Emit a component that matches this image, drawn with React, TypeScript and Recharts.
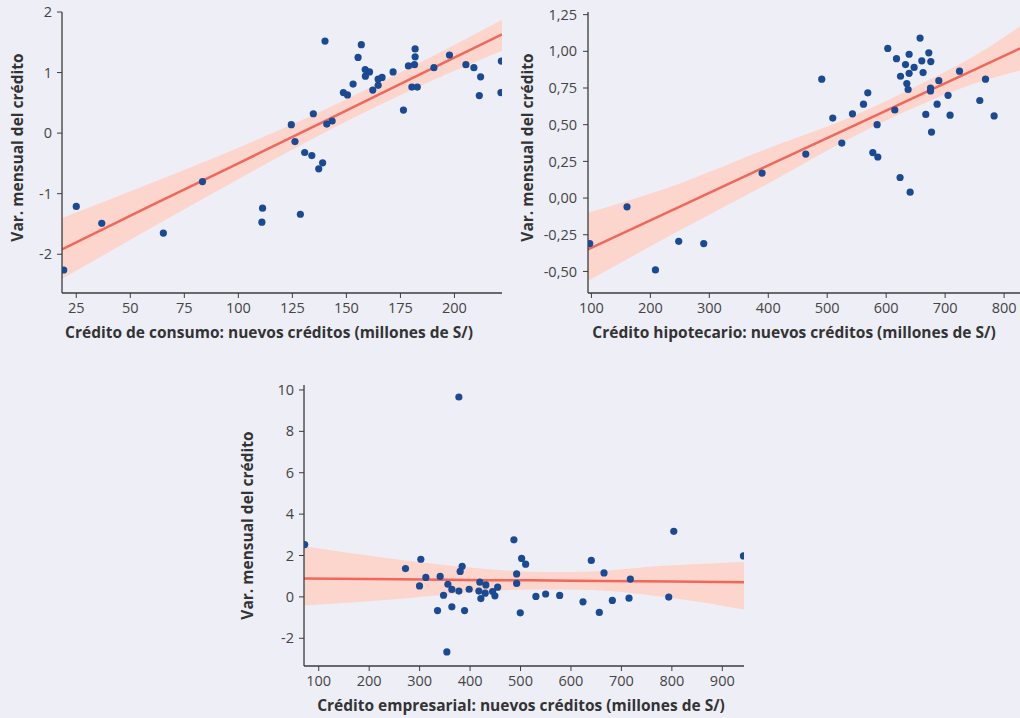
import {
  ComposedChart, Area, Line, Scatter, XAxis, YAxis,
} from 'recharts'

// Colours
const BG = '#eeeff6'
const DOT = '#1a4a94'
const FIT = '#f0675c'
const BAND = '#fcd6cd'
const AXIS = '#3c3c3c'
const TICK = '#444'

// Panel 1: consumo
const consumoPts = [
  [19.2, -2.26], [25, -1.21], [36.8, -1.49], [65.3, -1.65], [83.4, -0.8],
  [111.2, -1.24], [110.9, -1.47], [128.7, -1.34],
  [140.1, 1.52], [156.9, 1.46], [155.4, 1.25], [158.7, 1.05], [160.7, 1.01], [158.8, 0.94],
  [153.1, 0.81], [166.5, 0.92], [164.7, 0.89], [164.7, 0.79], [162.2, 0.71], [148.6, 0.67],
  [150.5, 0.63], [134.7, 0.32], [124.5, 0.14], [143.4, 0.2], [140.9, 0.15], [126.2, -0.14],
  [130.7, -0.32], [134, -0.37], [139, -0.49], [137.2, -0.59],
  [171.6, 1.01], [181.8, 1.39], [181.8, 1.26], [178.7, 1.11], [181.5, 1.13], [180.3, 0.76],
  [182.8, 0.76], [176.4, 0.38], [190.5, 1.08], [197.7, 1.29], [205.3, 1.13], [209, 1.08],
  [212.1, 0.93], [211.5, 0.62], [221.7, 1.19], [221.5, 0.67],
]
const consumoFitX = [18.4, 60, 100, 140, 180, 222]
const consumoFit = [-1.92, -1.19, -0.5, 0.2, 0.9, 1.63]
const consumoLo = [-2.41, -1.56, -0.76, 0.01, 0.71, 1.36]
const consumoHi = [-1.4, -0.82, -0.24, 0.39, 1.09, 1.87]
const consumoXTicks = [25, 50, 75, 100, 125, 150, 175, 200]
const consumoYTicks = [-2, -1, 0, 1, 2]

// Panel 2: hipotecario
const hipoPts = [
  [97.1, -0.31], [160.4, -0.06], [208.6, -0.49], [248.1, -0.295], [290.5, -0.31], [389.5, 0.17],
  [463.6, 0.3], [490.7, 0.81], [509.4, 0.545], [524.7, 0.375], [542.8, 0.574], [561.5, 0.64],
  [568.8, 0.717], [584.6, 0.5], [577.3, 0.31], [585.8, 0.28], [602.7, 1.02], [614.6, 0.6],
  [617.5, 0.95], [623.6, 0.14], [624.3, 0.83], [632.8, 0.91], [638.9, 0.98], [638.9, 0.85],
  [647.4, 0.89], [635, 0.78], [637.2, 0.74], [640.6, 0.04], [657.5, 1.09], [660.4, 0.935],
  [662.6, 0.855], [672.3, 0.99], [675.7, 0.93], [675.2, 0.75], [675.2, 0.73], [667.2, 0.57],
  [676.9, 0.45], [689.3, 0.8], [686.4, 0.64], [705, 0.7], [708.4, 0.565], [724.4, 0.865],
  [758.8, 0.665], [768.5, 0.81], [783.1, 0.56],
]
const hipoFitX = [94.2, 250, 400, 550, 650, 750, 827]
const hipoFit = [-0.35, -0.058, 0.222, 0.502, 0.689, 0.876, 1.02]
const hipoLo = [-0.565, -0.22, 0.1, 0.43, 0.62, 0.78, 0.87]
const hipoHi = [-0.1, 0.1, 0.34, 0.57, 0.76, 0.97, 1.17]
const hipoXTicks = [100, 200, 300, 400, 500, 600, 700, 800]
const hipoYTicks = [-0.5, -0.25, 0, 0.25, 0.5, 0.75, 1, 1.25]

// Panel 3: empresarial
const empPts = [
  [72.2, 2.53], [272, 1.37], [302.4, 1.82], [299.8, 0.53], [312.3, 0.94], [340.7, 0.99],
  [335.5, -0.66], [347.4, 0.08], [356, 0.61], [363.9, 0.36], [363.9, -0.48], [354, -2.66],
  [377.8, 0.28], [377.8, 9.66], [380.4, 1.23], [384.3, 1.48], [389.1, -0.66], [398.2, 0.37],
  [417.5, 0.28], [419.4, 0.71], [421.4, -0.08], [431.3, 0.58], [430, 0.18], [444.6, 0.26],
  [449.2, 0.05], [454.6, 0.47], [486.9, 2.76], [492.3, 1.11], [492.3, 0.65], [502.2, 1.86],
  [510.1, 1.58], [499.5, -0.77], [530.5, 0.02], [549.8, 0.14], [577.6, 0.07], [623.8, -0.24],
  [640.3, 1.76], [656.2, -0.75], [665.5, 1.16], [682, -0.17], [715.1, -0.06], [717.7, 0.86],
  [793.8, -0.01], [803.8, 3.17], [941.9, 1.98],
]
const empFitX = [70.8, 260, 440, 520, 600, 800, 943]
const empFit = [0.89, 0.85, 0.81, 0.8, 0.78, 0.74, 0.71]
const empLo = [-0.42, -0.1, 0.28, 0.36, 0.36, -0.05, -0.61]
const empHi = [2.46, 1.8, 1.34, 1.22, 1.2, 1.53, 1.69]
const empXTicks = [100, 200, 300, 400, 500, 600, 700, 800, 900]
const empYTicks = [-2, 0, 2, 4, 6, 8, 10]

const Y_TITLE = 'Var. mensual del crédito'

const dot = (p: any) => <circle cx={p.cx} cy={p.cy} r={3.6} fill={DOT} />

interface PanelProps {
  pts: number[][]
  fitX: number[]
  fit: number[]
  lo: number[]
  hi: number[]
  xTicks: number[]
  yTicks: number[]
  xDomain: [number, number]
  yDomain: [number, number]
  xTitle: string
  xTitleX: number
  yTitleShift: number
  yAxisWidth: number
  width: number
  marginRight: number
  yFmt?: (v: number) => string
  yTickMargin: number
}

function Panel(props: PanelProps) {
  const { pts, fitX, fit, lo, hi, xTicks, yTicks, xDomain, yDomain, xTitle, xTitleX, yTitleShift, yAxisWidth, width, marginRight, yFmt, yTickMargin } = props
  const rows = fitX.map((x, i) => ({ x, fit: fit[i], band: [lo[i], hi[i]] }))
  const scatter = pts.map(([x, y]) => ({ x, y }))
  return (
    <ComposedChart width={width} height={345} data={rows} margin={{ top: 12, right: marginRight, bottom: 0, left: 0 }}>
      <XAxis
        dataKey="x" type="number" domain={xDomain} ticks={xTicks} allowDataOverflow
        height={52} tickSize={5} tickMargin={5}
        axisLine={{ stroke: AXIS, strokeWidth: 1.3 }} tickLine={{ stroke: AXIS }}
        tick={{ fill: TICK, fontSize: 14.5 }}
        label={{
          content: (p: any) => (
            <text x={xTitleX} y={p.viewBox.y + 45} textAnchor="middle" fill="#333" fontSize={15.5} fontWeight={700}>{xTitle}</text>
          ),
        }}
      />
      <YAxis
        type="number" domain={yDomain} ticks={yTicks} allowDataOverflow
        width={yAxisWidth} tickSize={5} tickMargin={yTickMargin}
        axisLine={{ stroke: AXIS, strokeWidth: 1.3 }} tickLine={{ stroke: AXIS }}
        tick={{ fill: TICK, fontSize: 14.5 }}
        tickFormatter={yFmt}
        label={{
          content: (p: any) => {
            const cx = 17
            const cy = p.viewBox.y + p.viewBox.height / 2 - yTitleShift
            return (
              <text x={cx} y={cy} transform={`rotate(-90 ${cx} ${cy})`} textAnchor="middle" dominantBaseline="central" fill="#333" fontSize={15.5} fontWeight={700}>{Y_TITLE}</text>
            )
          },
        }}
      />
      <Area dataKey="band" type="monotone" stroke="none" fill={BAND} fillOpacity={1} isAnimationActive={false} />
      <Line dataKey="fit" type="linear" stroke={FIT} strokeWidth={2.5} dot={false} activeDot={false} isAnimationActive={false} />
      <Scatter data={scatter} dataKey="y" shape={dot} isAnimationActive={false} />
    </ComposedChart>
  )
}

const comma = (v: number) => v.toFixed(2).replace('.', ',')

export default function App() {
  return (
    <div style={{ position: 'absolute', left: 0, top: 0, width: 1020, height: 718, background: BG, fontFamily: "'Open Sans', sans-serif", overflow: 'hidden' }}>
      <div style={{ position: 'absolute', left: 0, top: 0 }}>
        <Panel
          pts={consumoPts} fitX={consumoFitX} fit={consumoFit} lo={consumoLo} hi={consumoHi}
          xTicks={consumoXTicks} yTicks={consumoYTicks} xDomain={[18.4, 222]} yDomain={[-2.64, 2]}
          xTitle="Crédito de consumo: nuevos créditos (millones de S/)" xTitleX={269} yTitleShift={5}
          yAxisWidth={62} width={510} marginRight={8} yTickMargin={5}
        />
      </div>
      <div style={{ position: 'absolute', left: 510, top: 0 }}>
        <Panel
          pts={hipoPts} fitX={hipoFitX} fit={hipoFit} lo={hipoLo} hi={hipoHi}
          xTicks={hipoXTicks} yTicks={hipoYTicks} xDomain={[94.2, 827]} yDomain={[-0.647, 1.268]}
          xTitle="Crédito hipotecario: nuevos créditos (millones de S/)" xTitleX={284} yTitleShift={5}
          yAxisWidth={78} width={510} marginRight={0} yFmt={comma} yTickMargin={6}
        />
      </div>
      <div style={{ position: 'absolute', left: 230, top: 373 }}>
        <Panel
          pts={empPts} fitX={empFitX} fit={empFit} lo={empLo} hi={empHi}
          xTicks={empXTicks} yTicks={empYTicks} xDomain={[70.8, 943]} yDomain={[-3.34, 10.24]}
          xTitle="Crédito empresarial: nuevos créditos (millones de S/)" xTitleX={291} yTitleShift={0}
          yAxisWidth={74} width={520} marginRight={6} yTickMargin={5}
        />
      </div>
    </div>
  )
}
